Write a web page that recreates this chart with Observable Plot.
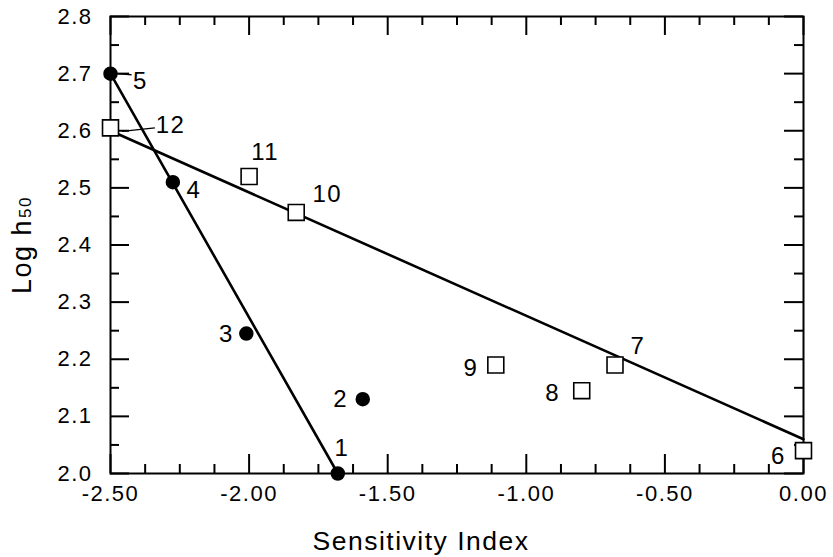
<!DOCTYPE html>
<html><head><meta charset="utf-8">
<script src="https://cdn.jsdelivr.net/npm/d3@7"></script>
<script src="https://cdn.jsdelivr.net/npm/@observablehq/plot@0.6"></script>
<style>
body{margin:0;background:#fff;}
</style></head><body><div id="chart"></div>
<pre id="dbg" style="position:absolute;left:380px;top:30px;font-size:10px;white-space:pre-wrap;margin:0"></pre>
<script>
const dbg = s => document.getElementById("dbg").textContent += s + "\n";
window.onerror = (m) => dbg("ERR " + m);
// ---- data ----
const circleX = [-1.68, -1.59, -2.01, -2.275, -2.50];
const circleY = [2.00, 2.13, 2.245, 2.51, 2.70];
const circleLabels = ["1", "2", "3", "4", "5"];

const squareX = [0.00, -0.68, -0.80, -1.11, -1.83, -2.00, -2.50];
const squareY = [2.04, 2.19, 2.145, 2.19, 2.457, 2.52, 2.605];
const squareLabels = ["6", "7", "8", "9", "10", "11", "12"];

const fitCircleX = [-2.50, -1.68];
const fitCircleY = [2.70, 2.00];
const fitSquareX = [-2.50, 0.00];
const fitSquareY = [2.60, 2.06];

const leader5X = [-2.475, -2.424];
const leader5Y = [2.700, 2.698];
const leader12X = [-2.458, -2.340];
const leader12Y = [2.599, 2.605];

const xMajor = [-2.5, -2.0, -1.5, -1.0, -0.5, 0.0];
const xMinor = [-2.375, -2.25, -2.125, -1.875, -1.75, -1.625, -1.375, -1.25, -1.125, -0.875, -0.75, -0.625, -0.375, -0.25, -0.125];
const yMajor = [2.0, 2.1, 2.2, 2.3, 2.4, 2.5, 2.6, 2.7, 2.8];
const yMinor = [2.05, 2.15, 2.25, 2.35, 2.45, 2.55, 2.65, 2.75];

const xTitle = "Sensitivity Index";
const yTitleMain = "Log h";
const yTitleSub = "50";

// ---- layout ----
const FONT = '"Liberation Sans", Arial, Helvetica, sans-serif';
const W = 833, H = 557, ML = 110, MR = 30, MT = 16, MB = 84;
const FW = W - ML - MR, FH = H - MT - MB;
const majorLen = 19, minorLen = 9;
const labelOffsets = {
  "1": [4, -25], "2": [-22, 0], "3": [-20, 1], "4": [21, 8], "5": [30, 8],
  "6": [-25, 6], "7": [23, -19], "8": [-29, 3], "9": [-25, 3], "10": [31, -18],
  "11": [16, -24], "12": [60, -3]
};
try {
const circles = circleX.map((x, i) => ({x, y: circleY[i], label: circleLabels[i]}));
const squares = squareX.map((x, i) => ({x, y: squareY[i], label: squareLabels[i]}));
const fitC = fitCircleX.map((x, i) => ({x, y: fitCircleY[i]}));
const fitS = fitSquareX.map((x, i) => ({x, y: fitSquareY[i]}));
const leaders = [
  {x1: leader5X[0], x2: leader5X[1], y1: leader5Y[0], y2: leader5Y[1]},
  {x1: leader12X[0], x2: leader12X[1], y1: leader12Y[0], y2: leader12Y[1]}
];

const marks = [];
// inward ticks on all four sides
for (const [ticks, len] of [[xMinor, minorLen], [xMajor, majorLen]]) {
  marks.push(Plot.ruleX(ticks, {x: d => d, insetTop: FH - len, stroke: "black", strokeWidth: 2}));
  marks.push(Plot.ruleX(ticks, {x: d => d, insetBottom: FH - len, stroke: "black", strokeWidth: 2}));
}
for (const [ticks, len] of [[yMinor, minorLen], [yMajor, majorLen]]) {
  marks.push(Plot.ruleY(ticks, {y: d => d, insetRight: FW - len, stroke: "black", strokeWidth: 2}));
  marks.push(Plot.ruleY(ticks, {y: d => d, insetLeft: FW - len, stroke: "black", strokeWidth: 2}));
}
// tick labels
marks.push(Plot.axisX(xMajor, {anchor: "bottom", tickSize: 0, tickPadding: 12, tickFormat: d => d.toFixed(2), label: null, fontSize: 22, fill: "black"}));
marks.push(Plot.axisY(yMajor, {anchor: "left", tickSize: 0, tickPadding: 18, tickFormat: d => d.toFixed(1), label: null, fontSize: 22, fill: "black"}));

marks.push(Plot.frame({stroke: "black", strokeWidth: 2}));
marks.push(Plot.line(fitC, {x: "x", y: "y", stroke: "black", strokeWidth: 2.6}));
marks.push(Plot.line(fitS, {x: "x", y: "y", stroke: "black", strokeWidth: 2.6}));
marks.push(Plot.link(leaders, {x1: "x1", y1: "y1", x2: "x2", y2: "y2", stroke: "black", strokeWidth: 1.3}));
marks.push(Plot.dot(circles, {x: "x", y: "y", r: 6.5, fill: "black", stroke: "black"}));
marks.push(Plot.dot(squares, {x: "x", y: "y", r: 9, symbol: "square", fill: "white", stroke: "black", strokeWidth: 1.6}));
for (const d of [...circles, ...squares]) {
  const [dx, dy] = labelOffsets[d.label];
  marks.push(Plot.text([d], {x: "x", y: "y", text: "label", dx, dy, fontSize: 24, fill: "black", textAnchor: "middle", lineAnchor: "middle"}));
}
// axis titles
marks.push(Plot.text([xTitle], {frameAnchor: "bottom", text: d => d, dx: -36, dy: 68, fontSize: 26.5, fill: "black", textAnchor: "middle", lineAnchor: "middle"}));
marks.push(Plot.text([yTitleMain], {frameAnchor: "left", text: d => d, rotate: -90, dx: -88, dy: 49, fontSize: 27, fill: "black", textAnchor: "start", lineAnchor: "middle"}));
marks.push(Plot.text([yTitleSub], {frameAnchor: "left", text: d => d, rotate: -90, dx: -84.5, dy: -27, fontSize: 17, fill: "black", textAnchor: "start", lineAnchor: "middle"}));

const chart = Plot.plot({
  width: W,
  height: H,
  marginLeft: ML,
  marginRight: MR,
  marginTop: MT,
  marginBottom: MB,
  x: {domain: [-2.5, 0], axis: null},
  y: {domain: [2.0, 2.8], axis: null},
  style: {background: "white", color: "black", fontFamily: FONT, overflow: "visible", letterSpacing: "1.5px"},
  marks
});

document.getElementById("chart").appendChild(chart);
} catch (e) { dbg("EXC " + e); }
</script>
</body></html>
